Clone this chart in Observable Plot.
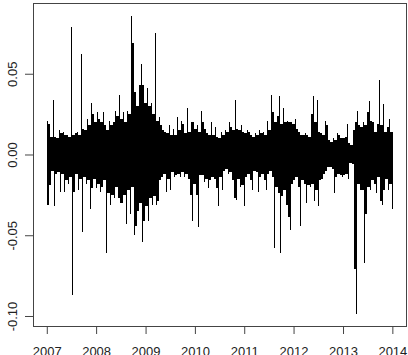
<!DOCTYPE html>
<html>
<head>
<meta charset="utf-8">
<script src="https://cdn.jsdelivr.net/npm/d3@7"></script>
<script src="https://cdn.jsdelivr.net/npm/@observablehq/plot@0.6"></script>
<style>
  html, body { margin: 0; padding: 0; background: #fff; }
  #chart svg { display: block; }
</style>
</head>
<body>
<div id="chart"></div>
<script>
// Daily returns (roughly one value per pixel column, 2007 to end of 2013)
const returns = [
  0.021, -0.031, 0.019, -0.019, 0.011, -0.010, 0.034, -0.032, 0.011,
  -0.012, 0.010, -0.011, 0.015, -0.023, 0.013, -0.012, 0.014, -0.023, 0.012,
  -0.016, 0.012, -0.018, 0.011, -0.014, 0.079, -0.087, 0.012, -0.023, 0.013,
  -0.012, 0.014, -0.022, 0.012, -0.015, 0.062, -0.048, 0.016, -0.014, 0.015, -0.018,
  0.022, -0.016, 0.018, -0.034, 0.032, -0.021, 0.025, -0.015, 0.020, -0.021,
  0.026, -0.018, 0.022, -0.023, 0.020, -0.020, 0.026, -0.016, 0.018, -0.061,
  0.015, -0.024, 0.021, -0.031, 0.018, -0.025, 0.020, -0.027, 0.027, -0.020,
  0.024, -0.027, 0.037, -0.030, 0.022, -0.030, 0.026, -0.025, 0.020, -0.043,
  0.027, -0.022, 0.025, -0.037, 0.086, -0.020, 0.069, -0.050, 0.039, -0.044,
  0.030, -0.035, 0.043, -0.030, 0.056, -0.054, 0.043, -0.041, 0.032, -0.032,
  0.041, -0.041, 0.030, -0.027, 0.032, -0.031, 0.025, -0.026, 0.075,
  -0.031, 0.021, -0.029, 0.023, -0.016, 0.018, -0.014, 0.015, -0.012, 0.014,
  -0.023, 0.013, -0.015, 0.018, -0.022, 0.012, -0.011, 0.016, -0.014, 0.012,
  -0.013, 0.023, -0.012, 0.015, -0.014, 0.021, -0.011, 0.019, -0.014, 0.013,
  -0.012, 0.029, -0.015, 0.014, -0.025, 0.020, -0.041, 0.020, -0.018, 0.016, -0.025,
  0.018, -0.045, 0.014, -0.013, 0.027, -0.013, 0.020, -0.017, 0.016, -0.015,
  0.013, -0.021, 0.012, -0.016, 0.020, -0.014, 0.012, -0.015, 0.017, -0.021,
  0.011, -0.032, 0.010, -0.014, 0.014, -0.022, 0.012, -0.010, 0.015, -0.009,
  0.014, -0.012, 0.020, -0.011, 0.017, -0.016, 0.015, -0.027, 0.034,
  -0.028, 0.016, -0.015, 0.015, -0.020, 0.018, -0.019, 0.014, -0.032, 0.013,
  -0.014, 0.015, -0.012, 0.014, -0.016, 0.012, -0.022, 0.011, -0.010, 0.013,
  -0.011, 0.012, -0.023, 0.015, -0.014, 0.013, -0.012, 0.014, -0.016, 0.012,
  -0.022, 0.021, -0.012, 0.015, -0.010, 0.037, -0.014, 0.026, -0.058, 0.020,
  -0.020, 0.024, -0.024, 0.036, -0.061, 0.019, -0.026, 0.029, -0.022, 0.020,
  -0.031, 0.021, -0.039, 0.020, -0.047, 0.020, -0.018, 0.019, -0.016, 0.022,
  -0.014, 0.016, -0.020, 0.014, -0.044, 0.012, -0.016, 0.012, -0.018, 0.013,
  -0.030, 0.012, -0.019, 0.011, -0.020, 0.025, -0.018, 0.036, -0.029, 0.020,
  -0.022, 0.034, -0.032, 0.014, -0.016, 0.013, -0.015, 0.012, -0.012, 0.021,
  -0.010, 0.018, -0.008, 0.009, -0.008, 0.008, -0.009, 0.010, -0.024, 0.009,
  -0.014, 0.013, -0.012, 0.012, -0.013, 0.010, -0.014, 0.010, -0.013, 0.011,
  -0.012, 0.019, -0.015, 0.007, -0.005, 0.006, -0.006, 0.015, -0.071, 0.020,
  -0.099, 0.027, -0.018, 0.018, -0.022, 0.017, -0.022, 0.020, -0.067, 0.018,
  -0.037, 0.026, -0.020, 0.033, -0.022, 0.021, -0.016, 0.020, -0.018, 0.014,
  -0.024, 0.019, -0.014, 0.046, -0.029, 0.018, -0.031, 0.031, -0.022, 0.014, -0.015,
  0.017, -0.022, 0.022, -0.018, 0.014, -0.034
];
const firstDay = "2007-01-03";
const lastDay = "2013-12-31";
const yearTicks = [2007, 2008, 2009, 2010, 2011, 2012, 2013, 2014];
const yTicks = [-0.10, -0.05, 0.00, 0.05];

const t0 = new Date(firstDay).getTime();
const t1 = new Date(lastDay).getTime();
const n = returns.length;
// each pixel column: a vertical stroke from its own extreme back to the nearer opposite extreme of its neighbours
const data = returns.map((r, i) => {
  const nb = [returns[i - 1], returns[i + 1]].filter(v => v !== undefined && Math.sign(v) !== Math.sign(r));
  const inner = nb.length ? nb.reduce((a, b) => Math.abs(a) < Math.abs(b) ? a : b) : 0;
  return {date: new Date(t0 + (t1 - t0) * i / (n - 1)), r, inner};
});

const yearDates = yearTicks.map(y => new Date(Date.UTC(y, 0, 1)));

const chart = Plot.plot({
  width: 408,
  height: 355,
  marginLeft: 33,
  marginRight: 2,
  marginTop: 3,
  marginBottom: 29,
  style: {fontFamily: "'Liberation Sans', Arial, sans-serif", fontSize: "13px", color: "#222", background: "#fff"},
  x: {type: "utc", domain: [new Date(Date.UTC(2006, 8, 21)), new Date(Date.UTC(2014, 3, 12))]},
  y: {domain: [-0.1062, 0.0938]},
  marks: [
    Plot.ruleX(data, {x: "date", y1: "inner", y2: "r", stroke: "#000", strokeWidth: 1, shapeRendering: "crispEdges"}),
    Plot.frame({stroke: "#444"}),
    Plot.axisX({ticks: yearDates, tickFormat: d => String(d.getUTCFullYear()), tickSize: 8, tickPadding: 12, stroke: "#444", label: null}),
    Plot.axisY({ticks: yTicks, tickFormat: d => d.toFixed(2), tickSize: 8, tickRotate: -90, tickPadding: 9, stroke: "#444", label: null})
  ]
});
document.getElementById("chart").appendChild(chart);
</script>
</body>
</html>
